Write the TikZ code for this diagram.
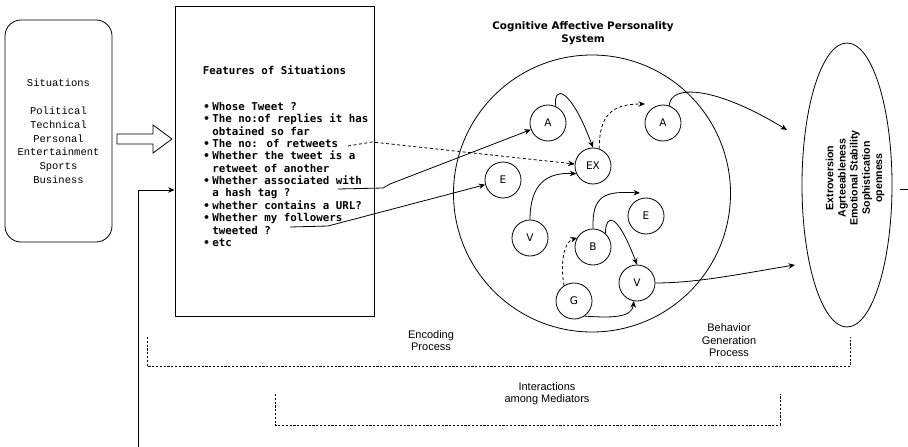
\documentclass[tikz,border=0pt]{standalone}
\usepackage{fontspec}
\setmainfont{Liberation Sans}
\newfontfamily\sitfont{Liberation Mono}
\newfontfamily\featfont{DejaVu Sans Mono}
\newfontfamily\capsfont{DejaVu Sans}
\usetikzlibrary{arrows.meta,shapes.geometric}
\begin{document}
\begin{tikzpicture}[x=1pt,y=-1pt, line width=0.8pt,
  >={Stealth[length=6.5pt,width=5.5pt]},
  every node/.style={inner sep=0pt},
  sitbox/.style={draw, rounded corners=16pt, minimum width=107pt, minimum height=222pt},
  featbox/.style={draw, minimum width=199pt, minimum height=310pt},
  featfnt/.style={font=\featfont\bfseries\fontsize{10.8}{12}\selectfont},
  featline/.style={featfnt, anchor=base west},
  mediator/.style={draw, circle, minimum size=36pt, font=\capsfont\fontsize{10.5}{12}\selectfont},
  bracket/.style={dash pattern=on 2.2pt off 1.6pt, line width=0.7pt},
  dashlink/.style={dash pattern=on 3pt off 2.5pt},
  proclabel/.style={align=center, font=\fontsize{11}{12.5}\selectfont}
]
\useasboundingbox (0,0) rectangle (908,447);

% Situations
\node[sitbox] (sit) at (58.5,131) {};
\node[align=center, font=\sitfont\fontsize{10.5}{13.8}\selectfont] (sittext) at (58.5,131.5)
  {Situations\\[13.8pt]Political\\Technical\\Personal\\Entertainment\\Sports\\Business};

% block arrow
\draw (117,134) -- (153,134) -- (153,125) -- (172,139) -- (153,153) -- (153,144) -- (117,144) -- cycle;

% Features of situations
\node[featbox] (feat) at (274.5,161) {};
\node[featfnt] (feattitle) at (274.5,70) {Features of Situations};
\foreach \y in {110.5,122.85,147.55,159.9,184.6,209.3,221.65,246.35}
  \node[featline] at (203,\y) {\textbullet};
\node[featline] (f1) at (212,110.5) {Whose Tweet ?};
\node[featline] (f2) at (212,122.85) {The no:of replies it has};
\node[featline] (f3) at (212,135.2) {obtained so far};
\node[featline] (f4) at (212,147.55) {The no: of retweets};
\node[featline] (f5) at (212,159.9) {Whether the tweet is a};
\node[featline] (f6) at (212,172.25) {retweet of another};
\node[featline] (f7) at (212,184.6) {Whether associated with};
\node[featline] (f8) at (212,196.95) {a hash tag ?};
\node[featline] (f9) at (212,209.3) {whether contains a URL?};
\node[featline] (f10) at (212,221.65) {Whether my followers};
\node[featline] (f11) at (212,234) {tweeted ?};
\node[featline] (f12) at (212,246.35) {etc};

% CAPS
\node[align=center, font=\capsfont\bfseries\fontsize{10.4}{13}\selectfont] (title) at (583,33)
  {Cognitive Affective Personality\\System};
\node[draw, circle, minimum size=277pt] (caps) at (592,193.5) {};

\node[mediator] (A1) at (548,123) {A};
\node[mediator] (A2) at (663,123) {A};
\node[mediator] (EX) at (593,166) {EX};
\node[mediator] (E1) at (503,180) {E};
\node[mediator] (V1) at (530,238) {V};
\node[mediator] (B)  at (593,247) {B};
\node[mediator] (E2) at (646,216) {E};
\node[mediator] (V2) at (637,283) {V};
\node[mediator] (G)  at (574,301) {G};

% traits
\node[draw, ellipse, minimum width=90pt, minimum height=284pt] (traits) at (847,185) {};
\node[rotate=90, align=center, font=\bfseries\fontsize{10.6}{12.2}\selectfont] (traittext) at (855,178)
  {Extroversion\\Agrteeableness\\Emotional Stability\\Sophistication\\openness};

% coordinates
\coordinate (rt) at (348,146);
\coordinate (rtbend) at (372,142);
\coordinate (hash) at (338,189);
\coordinate (hashb1) at (383,188);
\coordinate (hashb2) at (390,184);
\coordinate (foll) at (290,227);
\coordinate (follb) at (328,226);
\coordinate (a2in) at (645,104);
\coordinate (e2in) at (640,193);
\coordinate (tr1) at (787,130);
\coordinate (tr2) at (795,265);
\coordinate (fb0) at (138,447);
\coordinate (fb1) at (138,190);
\coordinate (st0) at (900,189);
\coordinate (st1) at (908,189);

% connectors from features
\draw[dashlink,->] (rt) -- (rtbend) -- (EX);
\draw[->] (hash) -- (hashb1) -- (hashb2) -- (A1);
\draw[->] (foll) -- (follb) -- (E1);

% inner connectors
\draw[->] (A1.65) .. controls (553,85) and (570,86) .. (EX.north);
\draw[dashlink,->] (EX.70) .. controls (599,115) and (612,104) .. (a2in);
\draw[->] (A2.70) .. controls (670,84) and (715,86) .. (tr1);
\draw[->] (V1.north) .. controls (530,185) and (546,172) .. (EX.205);
\draw[->] (B.north) .. controls (592,195) and (605,191) .. (e2in);
\draw[->] (B.48) .. controls (606,213) and (617,212) .. (V2.north);
\draw[dashlink,->] (G.123) .. controls (560,262) and (564,242) .. (B.150);
\draw[->] (G.-55) .. controls (610,318) and (632,318) .. (V2.-100);
\draw[->] (V2.east) .. controls (700,283) and (750,272) .. (tr2);

% feedback and stub
\draw[->] (fb0) -- (fb1) -- (fb1 -| feat.west);
\draw (st0) -- (st1);

% brackets
\draw[bracket] (147,337) -- (147,366) -- (850,366) -- (850,337);
\draw[bracket] (275,394) -- (275,425) -- (780,425) -- (780,394);

\node[proclabel] (enc) at (431,340.5) {Encoding\\Process};
\node[proclabel] (bgp) at (729,340.5) {Behavior\\Generation\\Process};
\node[proclabel] (imed) at (547,393.5) {Interactions\\among Mediators};
\end{tikzpicture}
\end{document}
